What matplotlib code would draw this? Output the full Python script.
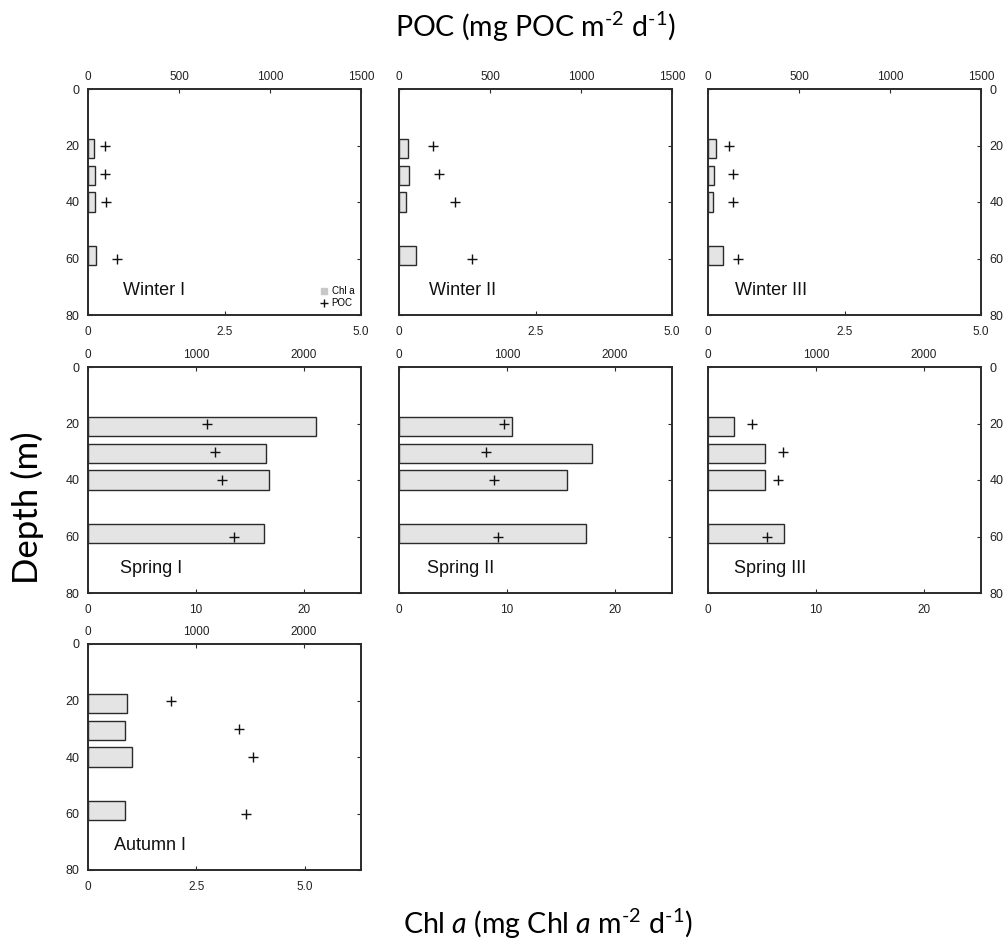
import matplotlib
matplotlib.use("Agg")
import matplotlib.pyplot as plt
from matplotlib.lines import Line2D

plt.rcParams['font.family'] = ['Liberation Sans', 'DejaVu Sans']
plt.rcParams['mathtext.fontset'] = 'custom'
plt.rcParams['mathtext.rm'] = 'Lato'
plt.rcParams['mathtext.it'] = 'Lato:italic'

# ---- data ----
panels = ["Winter I", "Winter II", "Winter III",
          "Spring I", "Spring II", "Spring III",
          "Autumn I"]
bar_depth = [21, 30.5, 40, 59]     # depth of Chl a bars (m)
poc_depth = [20, 30, 40, 60]       # depth of POC points (m)

chl_winter1 = [0.11, 0.13, 0.12, 0.14]
chl_winter2 = [0.16, 0.18, 0.13, 0.32]
chl_winter3 = [0.15, 0.11, 0.10, 0.27]
chl_spring1 = [21.1, 16.45, 16.8, 16.3]
chl_spring2 = [10.5, 17.9, 15.6, 17.3]
chl_spring3 = [2.44, 5.28, 5.31, 7.07]
chl_autumn1 = [0.91, 0.86, 1.02, 0.85]

poc_winter1 = [92, 94, 99, 158]
poc_winter2 = [187, 220, 308, 402]
poc_winter3 = [117, 139, 139, 167]
poc_spring1 = [1102, 1176, 1244, 1352]
poc_spring2 = [972, 806, 883, 917]
poc_spring3 = [404, 691, 648, 549]
poc_autumn1 = [772, 1403, 1526, 1465]

chl_data = [chl_winter1, chl_winter2, chl_winter3,
            chl_spring1, chl_spring2, chl_spring3, chl_autumn1]
poc_data = [poc_winter1, poc_winter2, poc_winter3,
            poc_spring1, poc_spring2, poc_spring3, poc_autumn1]

chl_lim = [5.0, 5.0, 5.0, 25.3, 25.3, 25.3, 6.3]
chl_ticks = [[0, 2.5, 5.0]] * 3 + [[0, 10, 20]] * 3 + [[0, 2.5, 5.0]]
chl_ticklabels = [["0", "2.5", "5.0"]] * 3 + [["0", "10", "20"]] * 3 + [["0", "2.5", "5.0"]]
poc_lim = [1500, 1500, 1500, 2530, 2530, 2530, 2530]
poc_ticks = [[0, 500, 1000, 1500]] * 3 + [[0, 1000, 2000]] * 4
depth_ticks = [0, 20, 40, 60, 80]

# ---- layout ----
W, H = 1005, 949
fig = plt.figure(figsize=(W / 100, H / 100), dpi=100)
col_left = [88, 399, 708]
row_top = [89, 367, 644]
aw, ah = 273, 226
label_x = [0.128, 0.11, 0.10, 0.117, 0.103, 0.095, 0.095]

edge = '#2b2b2b'
for i, name in enumerate(panels):
    r, c = divmod(i, 3)
    l = col_left[c] / W
    b = 1 - (row_top[r] + ah) / H
    ax = fig.add_axes([l, b, aw / W, ah / H])
    ax.barh(bar_depth, chl_data[i], height=6.8, color='#e4e4e4',
            edgecolor=edge, linewidth=1.0, zorder=2)
    ax.set_xlim(0, chl_lim[i])
    ax.set_ylim(80, 0)
    ax.set_xticks(chl_ticks[i])
    ax.set_xticklabels(chl_ticklabels[i])
    ax.set_yticks(depth_ticks)
    ax.tick_params(axis='both', direction='in', length=3, width=0.8,
                   colors=edge)
    ax.tick_params(axis='x', labelsize=8.5, pad=8, labelcolor='#222222')
    ax.tick_params(axis='y', left=True, right=True, labelsize=9, pad=6,
                   labelleft=(c == 0), labelright=(c == 2),
                   labelcolor='#222222')
    for s in ax.spines.values():
        s.set_linewidth(1.2)
        s.set_color(edge)

    ax2 = ax.twiny()
    ax2.plot(poc_data[i], poc_depth, linestyle='none', marker='+',
             markersize=7, markeredgewidth=1.0, color='#111111', zorder=3)
    ax2.set_xlim(0, poc_lim[i])
    ax2.set_ylim(80, 0)
    ax2.set_xticks(poc_ticks[i])
    ax2.tick_params(axis='x', direction='in', length=3, width=0.8,
                    labelsize=8.5, colors=edge, labelcolor='#222222', pad=4)
    for s in ax2.spines.values():
        s.set_linewidth(1.2)
        s.set_color(edge)

    ax.text(label_x[i], 0.09, name, transform=ax.transAxes,
            fontsize=13, color='#111111', ha='left', va='baseline', zorder=5)

    if i == 0:
        handles = [Line2D([], [], linestyle='none', marker='s',
                          markersize=4, color='#c8c8c8'),
                   Line2D([], [], linestyle='none', marker='+',
                          markersize=6, markeredgewidth=1.0, color='#111111')]
        ax2.legend(handles, ['Chl a', 'POC'], loc='lower right',
                   frameon=False, fontsize=7, handlelength=0.8,
                   handletextpad=0.4, borderaxespad=0.3, labelspacing=0.2)

fig.text(535 / W, 1 - 27 / H,
         r'POC (mg POC m$^{\text{-}2}$ d$^{\text{-}1}$)', fontsize=20.5,
         family='Lato', ha='center', va='center')
fig.text(548 / W, 1 - 924 / H,
         r'Chl $\mathit{a}$ (mg Chl $\mathit{a}$ m$^{\text{-}2}$ d$^{\text{-}1}$)',
         fontsize=20.5, family='Lato', ha='center', va='center')
fig.text(27 / W, 1 - 508 / H, 'Depth (m)', fontsize=25, family='Lato',
         rotation=90, ha='center', va='center')

fig.savefig('out.png', dpi=100)
